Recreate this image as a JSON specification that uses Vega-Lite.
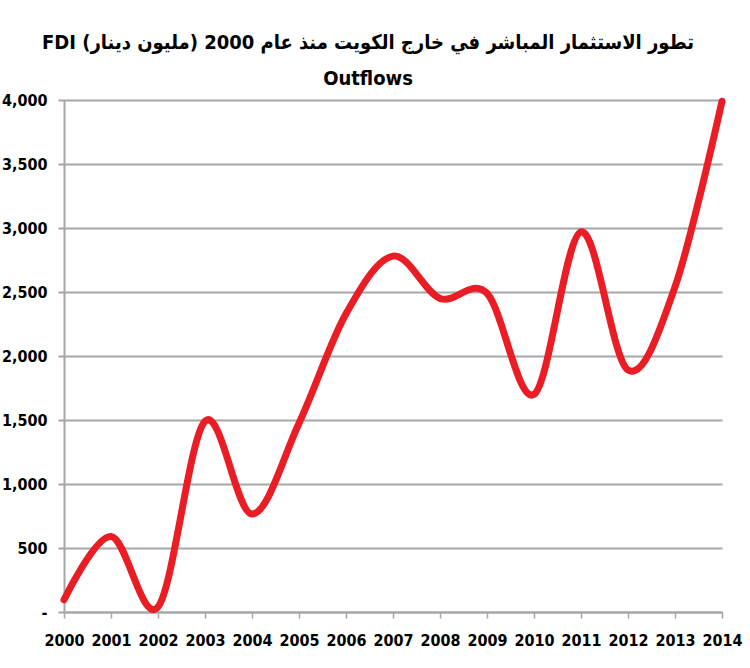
{
  "$schema": "https://vega.github.io/schema/vega-lite/v6.json",
  "width": 658,
  "height": 512,
  "autosize": "none",
  "padding": {"left": 64, "top": 100, "right": 28, "bottom": 56},
  "background": "white",
  "title": {
    "text": ["FDI  تطور الاستثمار المباشر في خارج الكويت منذ عام 2000 (مليون دينار)", "Outflows"],
    "font": "DejaVu Sans Condensed",
    "fontSize": 20,
    "fontWeight": "bold",
    "color": "black",
    "anchor": "middle",
    "frame": "group",
    "dx": -25,
    "offset": -2,
    "lineHeight": 36
  },
  "data": {
    "values": [
      {"year": "2000", "value": 95},
      {"year": "2001", "value": 590},
      {"year": "2002", "value": 40},
      {"year": "2003", "value": 1490},
      {"year": "2004", "value": 765},
      {"year": "2005", "value": 1475},
      {"year": "2006", "value": 2330},
      {"year": "2007", "value": 2780},
      {"year": "2008", "value": 2450},
      {"year": "2009", "value": 2490},
      {"year": "2010", "value": 1700},
      {"year": "2011", "value": 2970},
      {"year": "2012", "value": 1890},
      {"year": "2013", "value": 2540},
      {"year": "2014", "value": 3990}
    ]
  },
  "mark": {"type": "line", "interpolate": "cardinal", "color": "#ea1c24", "strokeWidth": 7, "strokeCap": "round"},
  "encoding": {
    "x": {
      "field": "year",
      "type": "ordinal",
      "scale": {"type": "point", "padding": 0},
      "axis": {
        "title": null,
        "labelAngle": 0,
        "labelFont": "DejaVu Sans Condensed",
        "labelFontSize": 16,
        "labelFontWeight": "bold",
        "labelColor": "black",
        "labelPadding": 14,
        "domainColor": "#a6a6a6",
        "domainWidth": 2,
        "tickColor": "#a6a6a6",
        "tickWidth": 1.5,
        "tickSize": 6,
        "grid": false
      }
    },
    "y": {
      "field": "value",
      "type": "quantitative",
      "scale": {"domain": [0, 4000], "nice": false},
      "axis": {
        "title": null,
        "values": [0, 500, 1000, 1500, 2000, 2500, 3000, 3500, 4000],
        "labelExpr": "datum.value == 0 ? '-' : format(datum.value, ',')",
        "labelFont": "DejaVu Sans Condensed",
        "labelFontSize": 16,
        "labelFontWeight": "bold",
        "labelColor": "black",
        "labelPadding": 11,
        "domainColor": "#a6a6a6",
        "domainWidth": 2,
        "tickColor": "#a6a6a6",
        "tickWidth": 2,
        "tickSize": 6,
        "grid": true,
        "gridColor": "#a6a6a6",
        "gridWidth": 2
      }
    }
  },
  "config": {"view": {"stroke": null}}
}
